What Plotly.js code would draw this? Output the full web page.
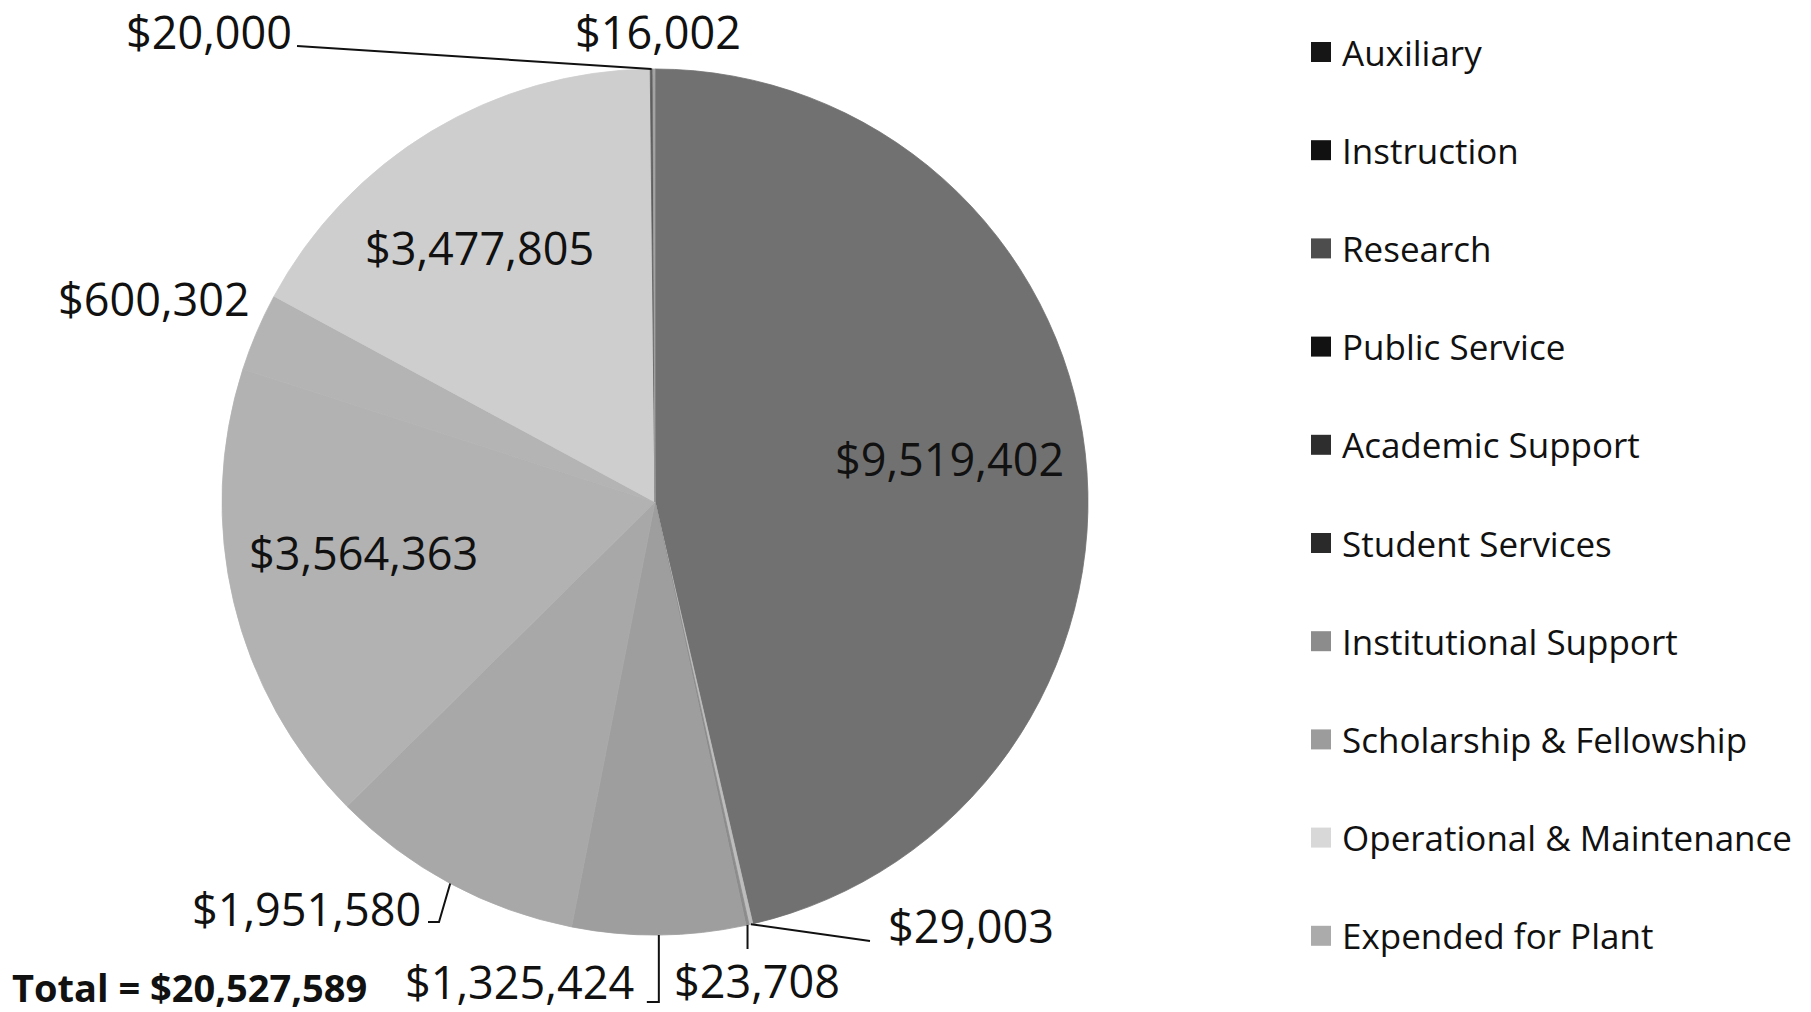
<!DOCTYPE html>
<html>
<head>
<meta charset="utf-8">
<script src="https://cdn.plot.ly/plotly-3.0.1.min.js"></script>
<style>
html,body{margin:0;padding:0;background:#ffffff;}
#chart{width:1811px;height:1012px;}
</style>
</head>
<body>
<div id="chart"></div>
<script>
// ---------------- data ----------------
const categories = ['Auxiliary', 'Instruction', 'Research', 'Public Service', 'Academic Support',
  'Student Services', 'Institutional Support', 'Scholarship & Fellowship',
  'Operational & Maintenance', 'Expended for Plant'];
const amounts = [9519402, 29003, 23708, 1325424, 1951580, 3564363, 600302, 3477805, 20000, 16002];
const totalPrefix = 'Total = ';

// ---------------- styles ----------------
const sliceColors = ['#717171', '#bdbdbd', '#8c8c8c', '#9e9e9e', '#a8a8a8',
  '#b2b2b2', '#b4b4b4', '#cecece', '#5f5f5f', '#a3a3a3'];
const swatchColors = ['#161616', '#111111', '#4d4d4d', '#121212', '#2e2e2e',
  '#2a2a2a', '#8c8c8c', '#9c9c9c', '#d8d8d8', '#ababab'];

const W = 1811, H = 1012;
const CX = 655, CY = 502, R = 433;          // pie geometry in pixels
const FONT = '"Open Sans", "Noto Sans", sans-serif';

// label placement (pixels): [x, y, xanchor, leader style]
const labelPlace = [
  [950, 459, 'center', null],
  [887, 925, 'left', 'instr'],
  [757, 980, 'center', 'research'],
  [635, 981, 'right', 'public'],
  [422, 908, 'right', 'academic'],
  [363, 552, 'center', null],
  [154, 299, 'center', null],
  [479, 247, 'center', null],
  [209, 31, 'center', 'om'],
  [658, 31, 'center', null]
];

const px = x => x / W;
const py = y => 1 - y / H;
const fmt = v => '$' + v.toLocaleString('en-US');

// slice mid angles (deg, clockwise from 12 o'clock) computed from data
const total = amounts.reduce((a, b) => a + b, 0);
let cum = 0;
const midAngles = amounts.map(v => {
  const start = cum;
  cum += v;
  return ((start + v / 2) / total) * 360;
});
const edgePoint = i => {
  const t = midAngles[i] * Math.PI / 180;
  return [CX + R * Math.sin(t), CY - R * Math.cos(t)];
};

const trace = {
  type: 'pie',
  values: amounts,
  labels: categories,
  sort: false,
  direction: 'clockwise',
  rotation: 0,
  textinfo: 'none',
  hoverinfo: 'label+value',
  showlegend: false,
  marker: { colors: sliceColors, line: { width: 0.8, color: sliceColors } },
  domain: { x: [px(CX - R), px(CX + R)], y: [py(CY + R), py(CY - R)] }
};

const annotations = [];
const shapes = [];
const lineStyle = { color: '#111111', width: 2 };
const addLine = (pts) => {
  let path = '';
  pts.forEach((p, k) => { path += (k ? ' L ' : 'M ') + px(p[0]) + ',' + py(p[1]); });
  shapes.push({ type: 'path', xref: 'paper', yref: 'paper', path: path, line: lineStyle });
};

amounts.forEach((v, i) => {
  const [x, y, xa, leader] = labelPlace[i];
  annotations.push({
    xref: 'paper', yref: 'paper', x: px(x), y: py(y), xanchor: xa, yanchor: 'middle',
    borderpad: 0,
    text: fmt(v), showarrow: false, font: { family: FONT, size: 45, color: '#111111' }
  });
  if (!leader) return;
  const e = edgePoint(i);
  if (leader === 'instr') addLine([e, [870, 941]]);
  if (leader === 'research') addLine([e, [e[0], 949]]);
  if (leader === 'public') addLine([e, [e[0], 1002], [e[0] - 12, 1002]]);
  if (leader === 'academic') addLine([e, [439, 922], [428, 922]]);
  if (leader === 'om') addLine([[297, 46], e]);
});

// total
annotations.push({
  xref: 'paper', yref: 'paper', x: px(11), y: py(987), xanchor: 'left', yanchor: 'middle',
  borderpad: 0,
  text: '<b>' + totalPrefix + fmt(total) + '</b>', showarrow: false,
  font: { family: FONT, size: 38, color: '#111111' }
});

// legend
categories.forEach((c, i) => {
  const yc = 52 + i * 98.2;
  shapes.push({
    type: 'rect', xref: 'paper', yref: 'paper',
    x0: px(1311), x1: px(1331), y0: py(yc + 10), y1: py(yc - 10),
    fillcolor: swatchColors[i], line: { width: 0 }
  });
  annotations.push({
    xref: 'paper', yref: 'paper', x: px(1340), y: py(yc), xanchor: 'left', yanchor: 'middle',
    text: c, showarrow: false, font: { family: FONT, size: 35, color: '#111111' }
  });
});

const layout = {
  width: W, height: H,
  margin: { l: 0, r: 0, t: 0, b: 0 },
  paper_bgcolor: '#ffffff',
  showlegend: false,
  annotations: annotations,
  shapes: shapes
};

Plotly.newPlot('chart', [trace], layout, { displayModeBar: false, staticPlot: true });
</script>
</body>
</html>
